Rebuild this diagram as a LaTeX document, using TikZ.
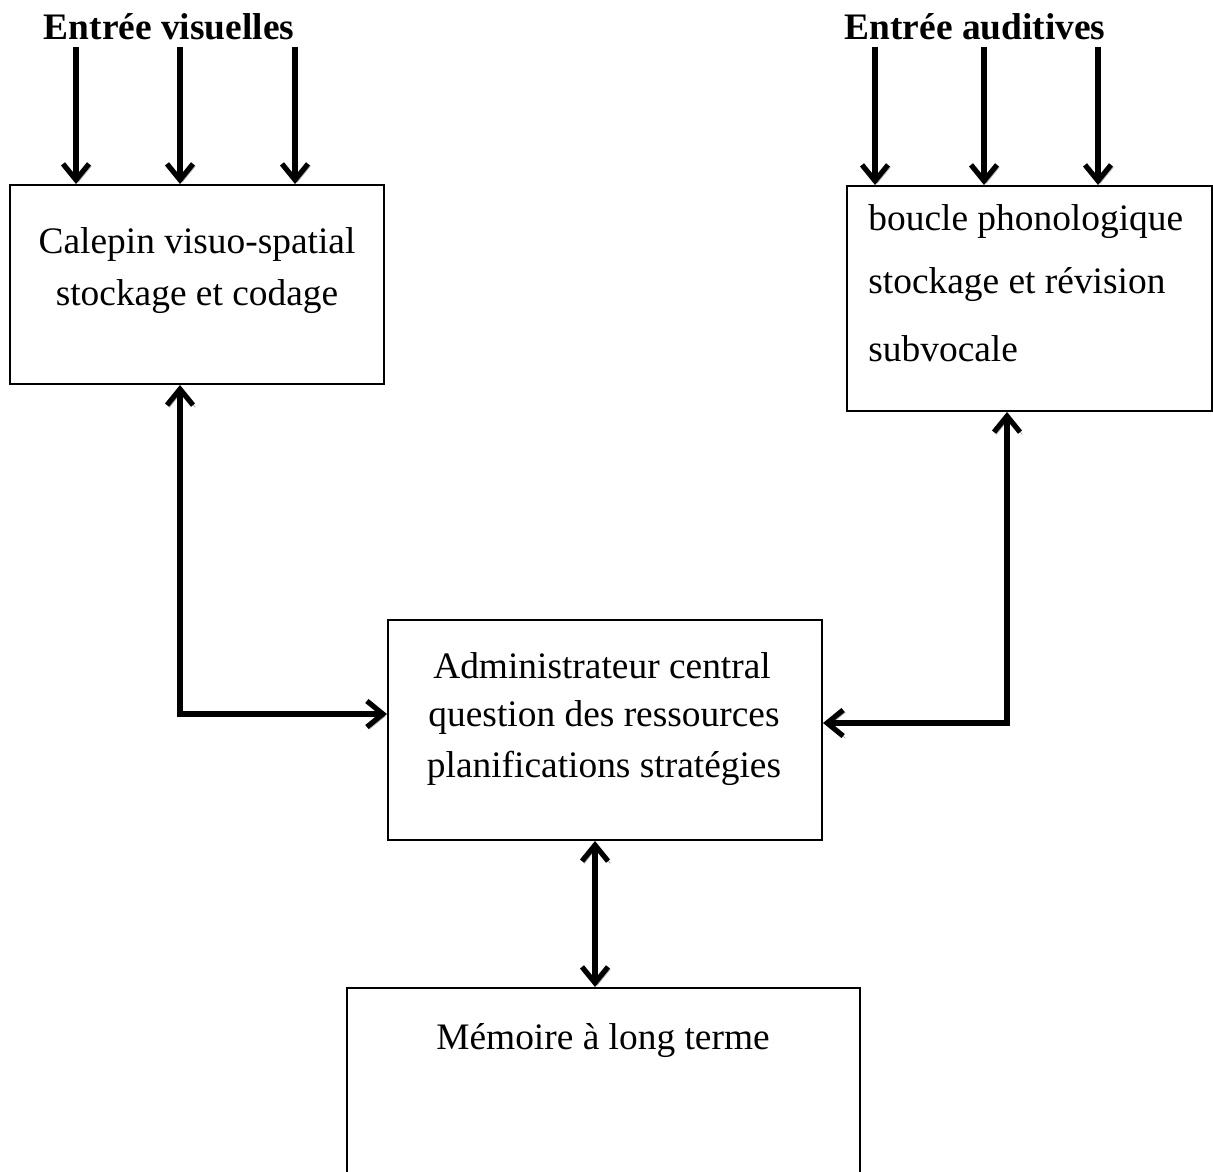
\documentclass[tikz,border=0pt]{standalone}
\usepackage{fontspec}
\setmainfont{Liberation Serif}
\usetikzlibrary{arrows.meta}
\begin{document}
\begin{tikzpicture}[x=0.5pt,y=-0.5pt,
  box/.style={draw, line width=1pt, inner sep=0pt},
  txt/.style={inner sep=0pt, font=\fontsize{18.7}{22}\selectfont},
  ttl/.style={inner sep=0pt, font=\fontsize{18.7}{22}\selectfont\bfseries},
  shadowed/.style={preaction={draw=black!35, transform canvas={shift={(1.1pt,-1.1pt)}}}},
  inarrow/.style={line width=2.6pt, -{Straight Barb[length=8pt,width=13pt]}, shadowed},
  link/.style={line width=2.6pt, {Straight Barb[length=8pt,width=13pt]}-{Straight Barb[length=8pt,width=13pt]}, shadowed}]
\useasboundingbox (0,0) rectangle (1213,1171);

% boxes
\node[box, minimum width=187pt, minimum height=99.5pt] (cal) at (197,284.5) {};
\node[box, minimum width=182.5pt, minimum height=112.5pt] (bou) at (1029.5,298.5) {};
\node[box, minimum width=217pt, minimum height=110pt] (adm) at (605,730) {};
\node[box, minimum width=256.5pt, minimum height=106pt] (mem) at (603.5,1094) {};

% texts inside boxes
\node[txt] (cal1) at (197,245) {Calepin visuo-spatial};
\node[txt] (cal2) at (197,297) {stockage et codage};
\node[txt, anchor=west] (bou1) at (868,222) {boucle phonologique};
\node[txt, anchor=west] (bou2) at (868,285) {stockage et révision};
\node[txt, anchor=west] (bou3) at (868,349) {subvocale};
\node[txt] (adm1) at (602,666) {Administrateur central};
\node[txt] (adm2) at (604,717) {question des ressources};
\node[txt] (adm3) at (604,768) {planifications stratégies};
\node[txt] (mem1) at (603,1041) {Mémoire à long terme};

% input titles
\node[ttl] (tv) at (169,27) {Entrée visuelles};
\node[ttl] (ta) at (975,27) {Entrée auditives};

% input arrows
\coordinate (v1) at (76,47);
\coordinate (v2) at (180,47);
\coordinate (v3) at (295,47);
\coordinate (a1) at (875,47);
\coordinate (a2) at (984,47);
\coordinate (a3) at (1098,47);
\foreach \p in {v1,v2,v3}{\draw[inarrow] (\p) -- (\p |- cal.north);}
\foreach \p in {a1,a2,a3}{\draw[inarrow] (\p) -- (\p |- bou.north);}

% links to the central administrator
\coordinate (lc) at (180,714);
\coordinate (rc) at (1007,723);
\draw[link] (lc |- cal.south) -- (lc) -- (lc -| adm.west);
\draw[link] (rc |- bou.south) -- (rc) -- (rc -| adm.east);
\coordinate (mc) at (595,800);
\draw[link] (mc |- adm.south) -- (mc |- mem.north);
\end{tikzpicture}
\end{document}
